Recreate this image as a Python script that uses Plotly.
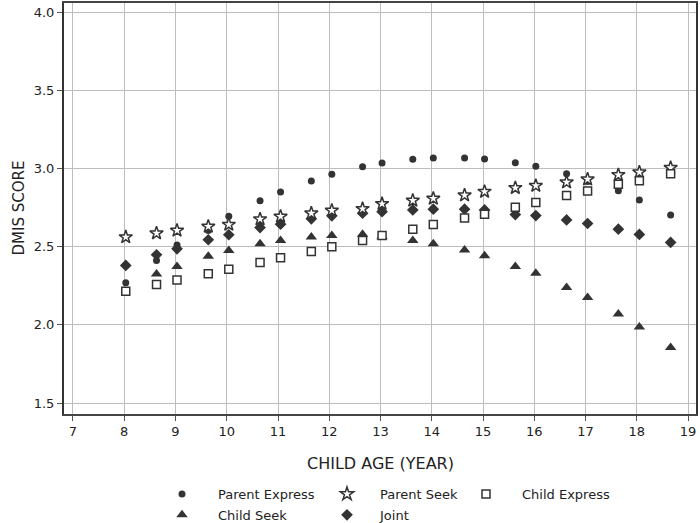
import plotly.graph_objects as go

ages = [8.03, 8.63, 9.03, 9.64, 10.04, 10.65, 11.05, 11.65, 12.05, 12.65, 13.03,
        13.63, 14.03, 14.64, 15.03, 15.63, 16.03, 16.63, 17.04, 17.64, 18.05, 18.66]

parent_express = [2.270, 2.413, 2.511, 2.604, 2.696, 2.794, 2.851, 2.921, 2.964, 3.012, 3.036,
                  3.060, 3.068, 3.068, 3.062, 3.038, 3.015, 2.968, 2.917, 2.859, 2.800, 2.704]
parent_seek = [2.562, 2.587, 2.604, 2.630, 2.642, 2.677, 2.694, 2.715, 2.732, 2.743, 2.775,
               2.796, 2.809, 2.830, 2.853, 2.877, 2.891, 2.913, 2.932, 2.960, 2.977, 3.006]
child_express = [2.215, 2.259, 2.287, 2.328, 2.357, 2.400, 2.430, 2.470, 2.500, 2.540, 2.572,
                 2.613, 2.642, 2.685, 2.709, 2.753, 2.783, 2.828, 2.857, 2.900, 2.923, 2.968]
child_seek = [None, 2.326, 2.374, 2.440, 2.477, 2.519, 2.540, 2.562, 2.572, 2.580, 2.565,
              2.540, 2.519, 2.479, 2.443, 2.374, 2.330, 2.240, 2.176, 2.070, 1.986, 1.855]
joint = [2.381, 2.449, 2.487, 2.545, 2.577, 2.623, 2.645, 2.679, 2.698, 2.715, 2.725,
         2.736, 2.741, 2.741, 2.736, 2.706, 2.700, 2.672, 2.649, 2.613, 2.579, 2.528]

x_ticks = [7, 8, 9, 10, 11, 12, 13, 14, 15, 16, 17, 18, 19]
y_ticks = [1.5, 2.0, 2.5, 3.0, 3.5, 4.0]

x_title = "CHILD AGE (YEAR)"
y_title = "DMIS SCORE"

DARK = "#333333"
TEXT = "#222222"
FONT = "DejaVu Sans"

fig = go.Figure()

# drawing order: triangles, circles, diamonds, stars, squares (squares on top)
fig.add_trace(go.Scatter(x=ages, y=child_seek, mode="markers", name="Child Seek",
                         legend="legend", legendrank=2, legendgroup="cs",
                         marker=dict(symbol="triangle-up", size=10, color=DARK)))
fig.add_trace(go.Scatter(x=ages, y=parent_express, mode="markers", name="Parent Express",
                         legend="legend", legendrank=1, legendgroup="pe",
                         marker=dict(symbol="circle", size=7, color=DARK)))
fig.add_trace(go.Scatter(x=ages, y=joint, mode="markers", name="Joint",
                         legend="legend2", legendrank=2, legendgroup="jo",
                         marker=dict(symbol="diamond", size=9, color=DARK)))
fig.add_trace(go.Scatter(x=ages, y=parent_seek, mode="markers", name="Parent Seek",
                         legend="legend2", legendrank=1, legendgroup="ps",
                         marker=dict(symbol="star", size=10, color="white",
                                     line=dict(color=DARK, width=1.5))))
fig.add_trace(go.Scatter(x=ages, y=child_express, mode="markers", name="Child Express",
                         legend="legend3", legendrank=1, legendgroup="ce",
                         marker=dict(symbol="square", size=8, color="white",
                                     line=dict(color=DARK, width=1.5))))

W, H = 700, 523
L, R, T, B = 64, 4, 3, 109
PW, PH = W - L - R, H - T - B


def leg(sym_x, top_y, itemwidth):
    center = (itemwidth + 10) / 2
    return dict(xref="container", yref="container",
                x=(sym_x - center - 1) / W, y=1 - top_y / H,
                xanchor="left", yanchor="top", orientation="v",
                itemwidth=itemwidth, tracegroupgap=1, traceorder="grouped",
                bgcolor="rgba(0,0,0,0)", borderwidth=0,
                font=dict(family=FONT, size=13, color=TEXT))


fig.update_layout(
    width=W, height=H,
    margin=dict(l=L, r=R, t=T, b=B, autoexpand=False),
    paper_bgcolor="white", plot_bgcolor="white",
    font=dict(family=FONT, size=12, color=TEXT),
    showlegend=True,
    legend=leg(183, 479, 62),
    legend2=leg(348, 479, 56),
    legend3=leg(487, 479, 62),
    xaxis=dict(range=[6.825, 19.155], tickvals=x_ticks, ticktext=[str(v) for v in x_ticks],
               showgrid=True, gridcolor="#bdbdbd", gridwidth=1,
               showline=True, linecolor="#444444", linewidth=1.5, mirror=True,
               ticks="outside", ticklen=5, tickcolor="#555555",
               tickfont=dict(family=FONT, size=13, color=TEXT),
               zeroline=False, automargin=False),
    yaxis=dict(range=[1.43, 4.06], tickvals=y_ticks, ticktext=[f"{v:.1f}" for v in y_ticks],
               showgrid=True, gridcolor="#bdbdbd", gridwidth=1,
               showline=True, linecolor="#333333", linewidth=2, mirror=True,
               ticks="outside", ticklen=5, tickcolor="#555555",
               tickfont=dict(family=FONT, size=13, color=TEXT),
               zeroline=False, automargin=False),
    annotations=[
        dict(text=x_title, xref="paper", yref="paper", x=0.5, y=(T + PH - 463) / PH,
             xanchor="center", yanchor="middle", showarrow=False,
             font=dict(family=FONT, size=16, color=TEXT)),
        dict(text=y_title, xref="paper", yref="paper", x=(18 - L) / PW, y=0.5,
             xanchor="center", yanchor="middle", showarrow=False, textangle=-90,
             font=dict(family=FONT, size=15, color=TEXT)),
    ],
)

fig.write_html("out.html", config={"displayModeBar": False},
               post_script="document.body.style.margin='0';")
